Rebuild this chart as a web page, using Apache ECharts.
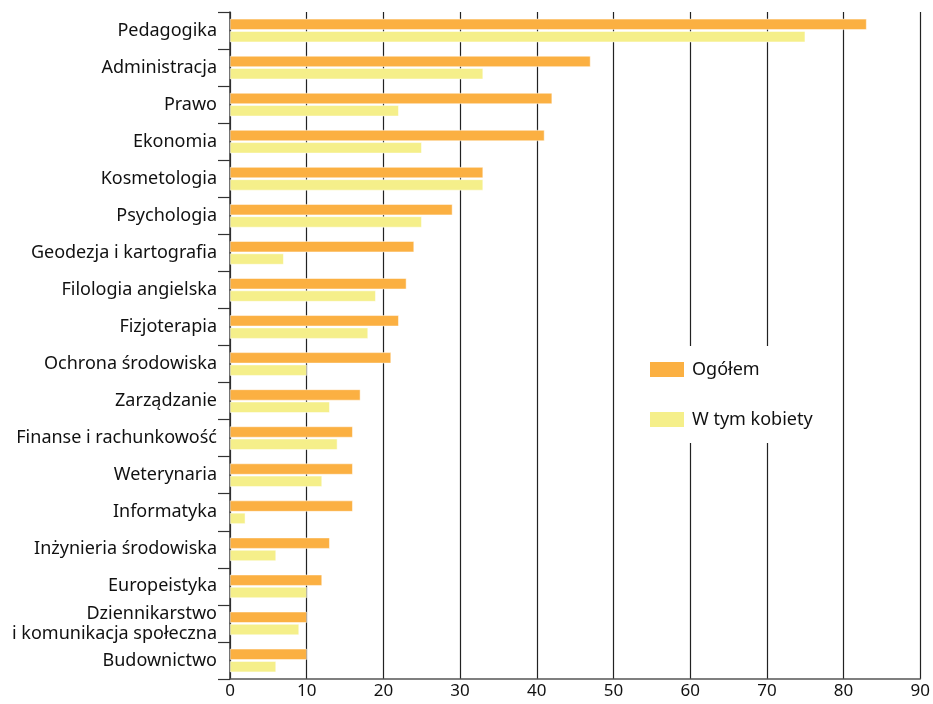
<!DOCTYPE html>
<html><head><meta charset="utf-8">
<script src="https://cdn.jsdelivr.net/npm/echarts@6/dist/echarts.min.js"></script>
<style>html,body{margin:0;padding:0;background:#fff}#c{width:933px;height:704px}</style>
</head><body><div id="c"></div>
<script>
const categories = ['Pedagogika','Administracja','Prawo','Ekonomia','Kosmetologia','Psychologia','Geodezja i kartografia','Filologia angielska','Fizjoterapia','Ochrona środowiska','Zarządzanie','Finanse i rachunkowość','Weterynaria','Informatyka','Inżynieria środowiska','Europeistyka','Dziennikarstwo\ni komunikacja społeczna','Budownictwo'];
const ogolem = [83,47,42,41,33,29,24,23,22,21,17,16,16,16,13,12,10,10];
const kobiety = [75,33,22,25,33,25,7,19,18,10,13,14,12,2,6,10,9,6];
const xTicks = [0,10,20,30,40,50,60,70,80,90];
const seriesNames = ['Ogółem','W tym kobiety'];

const chart = echarts.init(document.getElementById('c'));
const font = 'Noto Sans';
chart.setOption({
  animation:false,
  textStyle:{fontFamily:font},
  grid:{left:230,right:12,top:12,bottom:25,containLabel:false},
  legend:{
    orient:'vertical', left:636, top:346, padding:[14,14,14,12],
    backgroundColor:'#fff', itemWidth:36, itemHeight:17, itemGap:31,
    textStyle:{fontFamily:font,fontSize:18,color:'#111',padding:[0,0,0,2]},
    data:seriesNames.map(n=>({name:n,icon:'rect'}))
  },
  xAxis:{
    type:'value', min:xTicks[0], max:xTicks[xTicks.length-1], interval:10,
    axisLine:{show:true,lineStyle:{color:'#555',width:1.5}},
    axisTick:{show:false},
    axisLabel:{fontFamily:font,fontSize:17,color:'#111',margin:4},
    splitLine:{show:true,lineStyle:{color:'#222',width:1.2}}
  },
  yAxis:{
    type:'category', data:categories, inverse:true,
    axisLine:{show:true,lineStyle:{color:'#333',width:1.5}},
    axisTick:{show:true,length:12,lineStyle:{color:'#333',width:1.2}},
    axisLabel:{fontFamily:font,fontSize:18,color:'#111',margin:13,lineHeight:20,align:'right'},
    splitLine:{show:false}
  },
  series:[
    {name:seriesNames[0],type:'bar',data:ogolem,barWidth:11,barGap:'12%',
     itemStyle:{color:'#FBB042',borderColor:'#fff',borderWidth:0.5},z:3},
    {name:seriesNames[1],type:'bar',data:kobiety,barWidth:11,barGap:'12%',
     itemStyle:{color:'#F5EF8A',borderColor:'#fff',borderWidth:0.5},z:3}
  ]
});
</script></body></html>
